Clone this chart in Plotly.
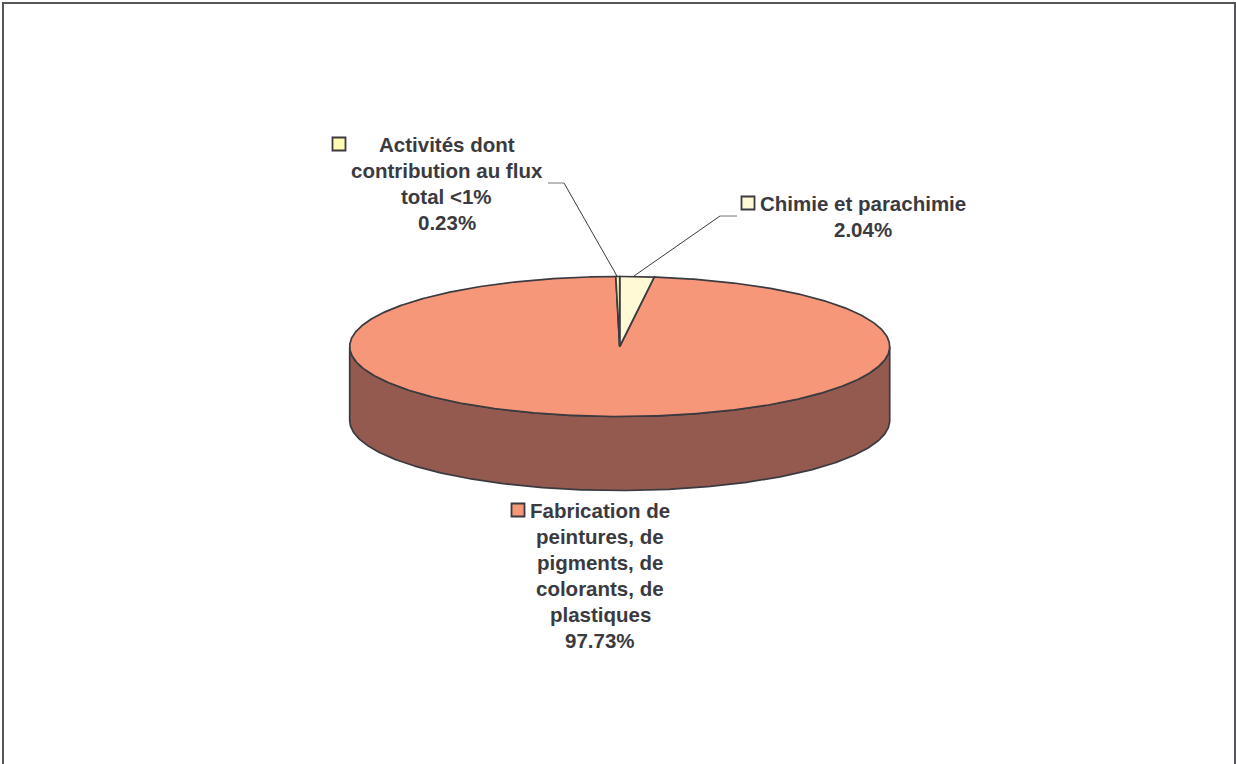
import numpy as np
import plotly.graph_objects as go

categories = ["Chimie et parachimie", "Fabrication de peintures, de pigments, de colorants, de plastiques", "Activités dont contribution au flux total <1%"]
values = [2.04, 97.73, 0.23]
label_lines = [
    ["Chimie et parachimie"],
    ["Fabrication de", "peintures, de", "pigments, de", "colorants, de", "plastiques"],
    ["Activités dont", "contribution au flux", "total <1%"],
]
top_colors = ["#FFF9D6", "#F79779", "#FFFBB3"]

W, H = 1236, 764
CX, CY, RX, RY, DEPTH = 619.7, 346.5, 270, 70, 74
LINE_STEP = 26
EDGE = "#3A3A40"
SIDE = "#945A50"
TEXT = "#3A3A40"


def ell(a):
    return CX + RX * np.sin(a), CY - RY * np.cos(a)


fig = go.Figure()

# wall of the disc: the visible front half of the rim
a = np.linspace(np.pi / 2, 3 * np.pi / 2, 300)
ex, ey = ell(a)
fig.add_trace(go.Scatter(
    x=np.r_[ex, ex[::-1], ex[0]], y=np.r_[ey, ey[::-1] + DEPTH, ey[0]],
    mode="lines", fill="toself", fillcolor=SIDE,
    line=dict(color=EDGE, width=1.7), hoverinfo="skip", showlegend=False,
))

# top face slices, clockwise from 12 o'clock
edges = np.cumsum([0] + values) / sum(values) * 2 * np.pi
order = [1, 0, 2]
for i in order:
    a = np.linspace(edges[i], edges[i + 1], max(3, int(values[i] * 8)))
    ex, ey = ell(a)
    fig.add_trace(go.Scatter(
        x=np.r_[CX, ex, CX], y=np.r_[CY, ey, CY],
        mode="lines", fill="toself", fillcolor=top_colors[i],
        line=dict(color=EDGE, width=1.7), hoverinfo="skip", showlegend=False,
    ))

# leader lines
for lx, ly in [((634, 720), (276, 216)), ((617, 564), (276, 183))]:
    fig.add_trace(go.Scatter(x=lx, y=ly, mode="lines", line=dict(color=EDGE, width=1),
                             hoverinfo="skip", showlegend=False))
for lx, ly in [((720, 737), (216, 216)), ((564, 548), (183, 183))]:
    fig.add_trace(go.Scatter(x=lx, y=ly, mode="lines", line=dict(color="#77777B", width=1),
                             hoverinfo="skip", showlegend=False))

# label keys and label text
key_xy = [(748, 203), (518, 510), (339, 144)]
text_xy = [(863, 216), (600, 575), (446.5, 183)]
fig.add_trace(go.Scatter(
    x=[p[0] for p in key_xy], y=[p[1] for p in key_xy], mode="markers",
    marker=dict(symbol="square", size=13, color=top_colors, line=dict(color=EDGE, width=1.8)),
    hoverinfo="skip", showlegend=False,
))
for i, (tx, ty) in enumerate(text_xy):
    lines = label_lines[i] + [f"{values[i]:.2f}%"]
    for k, line in enumerate(lines):
        fig.add_annotation(x=tx, y=ty + (k - (len(lines) - 1) / 2) * LINE_STEP, xref="x", yref="y",
                           text=f"<b>{line}</b>", showarrow=False, xanchor="center", yanchor="middle",
                           font=dict(family="Liberation Sans", size=20.5, color=TEXT))

# chart frame
fig.add_shape(type="rect", x0=3, y0=3, x1=1235, y1=H + 20, xref="x", yref="y",
              line=dict(color="#55555A", width=2), fillcolor="rgba(0,0,0,0)", layer="below")

fig.update_layout(
    width=W, height=H, margin=dict(l=0, r=0, t=0, b=0),
    paper_bgcolor="white", plot_bgcolor="white",
    xaxis=dict(range=[0, W], visible=False, fixedrange=True),
    yaxis=dict(range=[H, 0], visible=False, fixedrange=True),
)
fig.write_html("out.html", config={"displayModeBar": False},
               post_script="document.body.style.margin='0';document.documentElement.style.overflow='hidden';")
